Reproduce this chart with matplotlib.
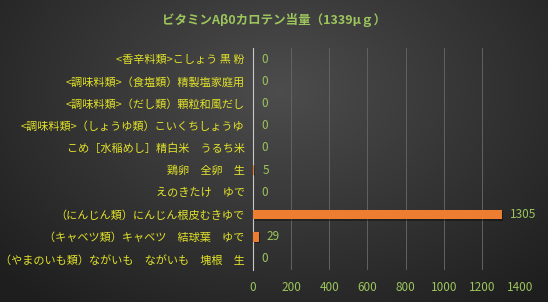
import matplotlib
matplotlib.use("Agg")
import matplotlib.pyplot as plt
import numpy as np

plt.rcParams['font.family'] = ['Noto Sans CJK JP', 'DejaVu Sans']

# data (top to bottom as shown)
foods = [
    "<香辛料類>こしょう 黒 粉",
    "<調味料類>（食塩類）精製塩家庭用",
    "<調味料類>（だし類）顆粒和風だし",
    "<調味料類>（しょうゆ類）こいくちしょうゆ",
    "こめ［水稲めし］精白米　うるち米",
    "鶏卵　全卵　生",
    "えのきたけ　ゆで",
    "（にんじん類）にんじん根皮むきゆで",
    "（キャベツ類）キャベツ　結球葉　ゆで",
    "（やまのいも類）ながいも　ながいも　塊根　生",
]
values = [0, 0, 0, 0, 0, 5, 0, 1305, 29, 0]
title = "ビタミンAβ0カロテン当量（1339μｇ）"
xticks = [0, 200, 400, 600, 800, 1000, 1200, 1400]

green = "#9cc55c"
yellow = "#e2e22a"
orange = "#ED7D31"

fig = plt.figure(figsize=(5.48, 3.02), dpi=100)

# dark radial gradient background
bg = fig.add_axes([0, 0, 1, 1])
yy, xx = np.mgrid[0:302, 0:548]
d = np.sqrt(((xx - 280) / 420.0) ** 2 + ((yy - 90) / 300.0) ** 2)
shade = np.clip(0.30 - 0.20 * d, 0.12, 0.30)
bg.imshow(np.dstack([shade, shade, shade]), aspect="auto", extent=[0, 1, 0, 1])
bg.axis("off")

ax = fig.add_axes([253 / 548, 1 - 270 / 302, 267 / 548, 222 / 302])
ax.set_facecolor("none")
pos = np.arange(len(foods))
ax.barh(pos + 0.05, values, height=0.45, color="#000000", alpha=0.35, left=6)
ax.barh(pos, values, height=0.45, color=orange, zorder=3)
for p, v in zip(pos, values):
    ax.annotate(str(v), (v, p), xytext=(6, 0), textcoords="offset points",
                color=green, va="center", ha="left", fontsize=8.5)
ax.set_ylim(len(foods) - 0.5, -0.5)
ax.set_xlim(0, 1400)
ax.set_yticks(pos)
ax.set_yticklabels(foods, color=yellow, fontsize=8)
ax.set_xticks(xticks)
ax.set_xticklabels([str(t) for t in xticks], color=green, fontsize=8.5)
ax.tick_params(length=0, pad=8)
ax.tick_params(axis="y", pad=6)
ax.grid(axis="x", color="#626262", linewidth=0.7)
ax.set_axisbelow(True)
for s in ["top", "right", "bottom"]:
    ax.spines[s].set_visible(False)
ax.spines["left"].set_color("#c8c8c8")
ax.spines["left"].set_linewidth(0.8)

fig.text(0.5, 1 - 20 / 302, title, color=green, ha="center", va="center",
         fontsize=9, fontweight="bold")

fig.savefig("out.png", dpi=100)
